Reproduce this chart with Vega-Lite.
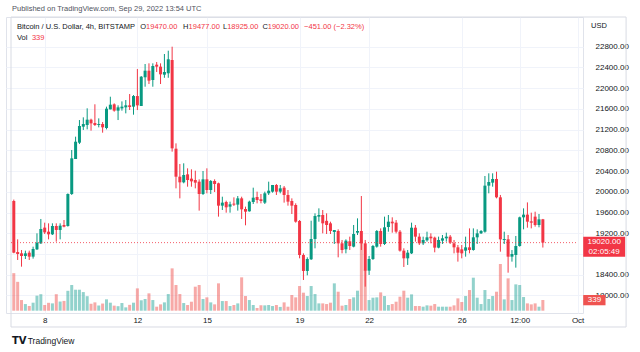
{
  "$schema": "https://vega.github.io/schema/vega-lite/v6.json",
  "autosize": "none",
  "width": 577,
  "height": 296,
  "padding": {"left": 6, "top": 17, "right": 57, "bottom": 39},
  "background": "white",
  "config": {
    "view": {"stroke": "#e0e3eb"},
    "font": "Liberation Sans",
    "axis": {"labelOverlap": false}
  },
  "data": {
    "values": [
      {"t":"2022-09-06T16:00Z","o":19823,"h":19850,"l":18815,"c":18826,"v":1190},
      {"t":"2022-09-06T20:00Z","o":18838,"h":19083,"l":18685,"c":18800,"v":915},
      {"t":"2022-09-07T00:00Z","o":18813,"h":18877,"l":18556,"c":18762,"v":338},
      {"t":"2022-09-07T04:00Z","o":18762,"h":18865,"l":18704,"c":18813,"v":211},
      {"t":"2022-09-07T08:00Z","o":18826,"h":18865,"l":18685,"c":18749,"v":150},
      {"t":"2022-09-07T12:00Z","o":18749,"h":18942,"l":18711,"c":18897,"v":254},
      {"t":"2022-09-07T16:00Z","o":18890,"h":19199,"l":18877,"c":19019,"v":476},
      {"t":"2022-09-07T20:00Z","o":19006,"h":19476,"l":18994,"c":19283,"v":523},
      {"t":"2022-09-08T00:00Z","o":19309,"h":19405,"l":19186,"c":19218,"v":180},
      {"t":"2022-09-08T04:00Z","o":19231,"h":19392,"l":19083,"c":19180,"v":250},
      {"t":"2022-09-08T08:00Z","o":19180,"h":19392,"l":19167,"c":19341,"v":232},
      {"t":"2022-09-08T12:00Z","o":19341,"h":19392,"l":19039,"c":19264,"v":523},
      {"t":"2022-09-08T16:00Z","o":19264,"h":19392,"l":19083,"c":19347,"v":290},
      {"t":"2022-09-08T20:00Z","o":19360,"h":19456,"l":19315,"c":19328,"v":310},
      {"t":"2022-09-09T00:00Z","o":19341,"h":19970,"l":19328,"c":19958,"v":630},
      {"t":"2022-09-09T04:00Z","o":19958,"h":20807,"l":19939,"c":20646,"v":814},
      {"t":"2022-09-09T08:00Z","o":20633,"h":21064,"l":20633,"c":20967,"v":665},
      {"t":"2022-09-09T12:00Z","o":20948,"h":21385,"l":20922,"c":21270,"v":665},
      {"t":"2022-09-09T16:00Z","o":21257,"h":21437,"l":21193,"c":21308,"v":590},
      {"t":"2022-09-09T20:00Z","o":21289,"h":21611,"l":21205,"c":21392,"v":460},
      {"t":"2022-09-10T00:00Z","o":21392,"h":21411,"l":21180,"c":21321,"v":220},
      {"t":"2022-09-10T04:00Z","o":21328,"h":21689,"l":21270,"c":21289,"v":264},
      {"t":"2022-09-10T08:00Z","o":21289,"h":21417,"l":21244,"c":21308,"v":165},
      {"t":"2022-09-10T12:00Z","o":21308,"h":21346,"l":21141,"c":21244,"v":227},
      {"t":"2022-09-10T16:00Z","o":21231,"h":21643,"l":21205,"c":21604,"v":360},
      {"t":"2022-09-10T20:00Z","o":21591,"h":21835,"l":21591,"c":21681,"v":254},
      {"t":"2022-09-11T00:00Z","o":21688,"h":21707,"l":21546,"c":21566,"v":160},
      {"t":"2022-09-11T04:00Z","o":21566,"h":21669,"l":21385,"c":21630,"v":143},
      {"t":"2022-09-11T08:00Z","o":21610,"h":21745,"l":21566,"c":21643,"v":243},
      {"t":"2022-09-11T12:00Z","o":21630,"h":21771,"l":21514,"c":21669,"v":106},
      {"t":"2022-09-11T16:00Z","o":21669,"h":21887,"l":21579,"c":21636,"v":185},
      {"t":"2022-09-11T20:00Z","o":21643,"h":21867,"l":21488,"c":21848,"v":254},
      {"t":"2022-09-12T00:00Z","o":21848,"h":22369,"l":21578,"c":21668,"v":708},
      {"t":"2022-09-12T04:00Z","o":21656,"h":22234,"l":21656,"c":22221,"v":330},
      {"t":"2022-09-12T08:00Z","o":22210,"h":22466,"l":22028,"c":22337,"v":370},
      {"t":"2022-09-12T12:00Z","o":22337,"h":22479,"l":22080,"c":22145,"v":550},
      {"t":"2022-09-12T16:00Z","o":22158,"h":22479,"l":22028,"c":22428,"v":338},
      {"t":"2022-09-12T20:00Z","o":22453,"h":22505,"l":22312,"c":22415,"v":127},
      {"t":"2022-09-13T00:00Z","o":22415,"h":22479,"l":22080,"c":22267,"v":201},
      {"t":"2022-09-13T04:00Z","o":22260,"h":22659,"l":22200,"c":22312,"v":264},
      {"t":"2022-09-13T08:00Z","o":22287,"h":22723,"l":22200,"c":22557,"v":528},
      {"t":"2022-09-13T12:00Z","o":22543,"h":22800,"l":20775,"c":20839,"v":1342},
      {"t":"2022-09-13T16:00Z","o":20832,"h":20935,"l":20067,"c":20292,"v":814},
      {"t":"2022-09-13T20:00Z","o":20292,"h":20537,"l":19874,"c":20183,"v":528},
      {"t":"2022-09-14T00:00Z","o":20183,"h":20550,"l":20164,"c":20325,"v":243},
      {"t":"2022-09-14T04:00Z","o":20337,"h":20453,"l":20099,"c":20228,"v":180},
      {"t":"2022-09-14T08:00Z","o":20254,"h":20434,"l":20099,"c":20202,"v":285},
      {"t":"2022-09-14T12:00Z","o":20228,"h":20408,"l":20067,"c":20177,"v":761},
      {"t":"2022-09-14T16:00Z","o":20196,"h":20241,"l":19637,"c":19958,"v":814},
      {"t":"2022-09-14T20:00Z","o":19958,"h":20402,"l":19939,"c":20241,"v":370},
      {"t":"2022-09-15T00:00Z","o":20241,"h":20453,"l":19971,"c":20035,"v":423},
      {"t":"2022-09-15T04:00Z","o":20035,"h":20228,"l":19958,"c":20209,"v":264},
      {"t":"2022-09-15T08:00Z","o":20209,"h":20241,"l":19997,"c":20151,"v":201},
      {"t":"2022-09-15T12:00Z","o":20164,"h":20177,"l":19521,"c":19733,"v":867},
      {"t":"2022-09-15T16:00Z","o":19733,"h":19906,"l":19649,"c":19791,"v":306},
      {"t":"2022-09-15T20:00Z","o":19804,"h":19829,"l":19598,"c":19701,"v":306},
      {"t":"2022-09-16T00:00Z","o":19714,"h":19810,"l":19598,"c":19759,"v":148},
      {"t":"2022-09-16T04:00Z","o":19772,"h":19894,"l":19727,"c":19753,"v":180},
      {"t":"2022-09-16T08:00Z","o":19753,"h":19919,"l":19637,"c":19874,"v":232},
      {"t":"2022-09-16T12:00Z","o":19874,"h":19906,"l":19476,"c":19662,"v":1057},
      {"t":"2022-09-16T16:00Z","o":19669,"h":19714,"l":19354,"c":19617,"v":465},
      {"t":"2022-09-16T20:00Z","o":19624,"h":19829,"l":19617,"c":19810,"v":338},
      {"t":"2022-09-17T00:00Z","o":19804,"h":20080,"l":19765,"c":19887,"v":180},
      {"t":"2022-09-17T04:00Z","o":19900,"h":20003,"l":19778,"c":19842,"v":85},
      {"t":"2022-09-17T08:00Z","o":19855,"h":19958,"l":19778,"c":19823,"v":169},
      {"t":"2022-09-17T12:00Z","o":19791,"h":20003,"l":19765,"c":19971,"v":169},
      {"t":"2022-09-17T16:00Z","o":19971,"h":20196,"l":19939,"c":20022,"v":180},
      {"t":"2022-09-17T20:00Z","o":20003,"h":20132,"l":19984,"c":20132,"v":148},
      {"t":"2022-09-18T00:00Z","o":20132,"h":20151,"l":19939,"c":20003,"v":180},
      {"t":"2022-09-18T04:00Z","o":20003,"h":20132,"l":19971,"c":20067,"v":120},
      {"t":"2022-09-18T08:00Z","o":20080,"h":20112,"l":19791,"c":19939,"v":264},
      {"t":"2022-09-18T12:00Z","o":19939,"h":20035,"l":19733,"c":19810,"v":127},
      {"t":"2022-09-18T16:00Z","o":19823,"h":19874,"l":19572,"c":19733,"v":497},
      {"t":"2022-09-18T20:00Z","o":19746,"h":19778,"l":19405,"c":19424,"v":423},
      {"t":"2022-09-19T00:00Z","o":19437,"h":19456,"l":18717,"c":18781,"v":782},
      {"t":"2022-09-19T04:00Z","o":18781,"h":18813,"l":18299,"c":18473,"v":571},
      {"t":"2022-09-19T08:00Z","o":18473,"h":18736,"l":18389,"c":18704,"v":465},
      {"t":"2022-09-19T12:00Z","o":18698,"h":19443,"l":18685,"c":19090,"v":782},
      {"t":"2022-09-19T16:00Z","o":19090,"h":19585,"l":18910,"c":19534,"v":528},
      {"t":"2022-09-19T20:00Z","o":19521,"h":19681,"l":19424,"c":19553,"v":232},
      {"t":"2022-09-20T00:00Z","o":19553,"h":19649,"l":19199,"c":19392,"v":232},
      {"t":"2022-09-20T04:00Z","o":19440,"h":19585,"l":19186,"c":19360,"v":211},
      {"t":"2022-09-20T08:00Z","o":19392,"h":19424,"l":19186,"c":19244,"v":254},
      {"t":"2022-09-20T12:00Z","o":19225,"h":19263,"l":18994,"c":19263,"v":867},
      {"t":"2022-09-20T16:00Z","o":19244,"h":19276,"l":18736,"c":19006,"v":602},
      {"t":"2022-09-20T20:00Z","o":19006,"h":19071,"l":18813,"c":18878,"v":159},
      {"t":"2022-09-21T00:00Z","o":18891,"h":19083,"l":18813,"c":19058,"v":180},
      {"t":"2022-09-21T04:00Z","o":19045,"h":19135,"l":18878,"c":18955,"v":370},
      {"t":"2022-09-21T08:00Z","o":18942,"h":19360,"l":18929,"c":19186,"v":423},
      {"t":"2022-09-21T12:00Z","o":19212,"h":19488,"l":19167,"c":19244,"v":634},
      {"t":"2022-09-21T16:00Z","o":19244,"h":19919,"l":18878,"c":19006,"v":2250},
      {"t":"2022-09-21T20:00Z","o":19006,"h":19071,"l":18170,"c":18479,"v":1300},
      {"t":"2022-09-22T00:00Z","o":18479,"h":18762,"l":18396,"c":18704,"v":338},
      {"t":"2022-09-22T04:00Z","o":18704,"h":18974,"l":18685,"c":18955,"v":412},
      {"t":"2022-09-22T08:00Z","o":18942,"h":19263,"l":18923,"c":19244,"v":423},
      {"t":"2022-09-22T12:00Z","o":19244,"h":19295,"l":18942,"c":18994,"v":581},
      {"t":"2022-09-22T16:00Z","o":18994,"h":19521,"l":18974,"c":19315,"v":465},
      {"t":"2022-09-22T20:00Z","o":19321,"h":19553,"l":19231,"c":19424,"v":180},
      {"t":"2022-09-23T00:00Z","o":19424,"h":19508,"l":19212,"c":19392,"v":211},
      {"t":"2022-09-23T04:00Z","o":19405,"h":19456,"l":19199,"c":19231,"v":285},
      {"t":"2022-09-23T08:00Z","o":19231,"h":19263,"l":18846,"c":18865,"v":444},
      {"t":"2022-09-23T12:00Z","o":18865,"h":18910,"l":18550,"c":18717,"v":634},
      {"t":"2022-09-23T16:00Z","o":18717,"h":18878,"l":18589,"c":18826,"v":412},
      {"t":"2022-09-23T20:00Z","o":18813,"h":19405,"l":18800,"c":19308,"v":518},
      {"t":"2022-09-24T00:00Z","o":19308,"h":19360,"l":19039,"c":19135,"v":148},
      {"t":"2022-09-24T04:00Z","o":19135,"h":19199,"l":18974,"c":19006,"v":148},
      {"t":"2022-09-24T08:00Z","o":19006,"h":19135,"l":18974,"c":19071,"v":127},
      {"t":"2022-09-24T12:00Z","o":19064,"h":19231,"l":19039,"c":19122,"v":169},
      {"t":"2022-09-24T16:00Z","o":19135,"h":19199,"l":19006,"c":19103,"v":159},
      {"t":"2022-09-24T20:00Z","o":19116,"h":19135,"l":18833,"c":18923,"v":211},
      {"t":"2022-09-25T00:00Z","o":18923,"h":19135,"l":18910,"c":19071,"v":127},
      {"t":"2022-09-25T04:00Z","o":19058,"h":19167,"l":18994,"c":19103,"v":127},
      {"t":"2022-09-25T08:00Z","o":19103,"h":19212,"l":19039,"c":19135,"v":127},
      {"t":"2022-09-25T12:00Z","o":19135,"h":19167,"l":18994,"c":19019,"v":127},
      {"t":"2022-09-25T16:00Z","o":19006,"h":19071,"l":18813,"c":18929,"v":169},
      {"t":"2022-09-25T20:00Z","o":18929,"h":18974,"l":18653,"c":18826,"v":391},
      {"t":"2022-09-26T00:00Z","o":18890,"h":18974,"l":18717,"c":18813,"v":275},
      {"t":"2022-09-26T04:00Z","o":18865,"h":19135,"l":18749,"c":18929,"v":465},
      {"t":"2022-09-26T08:00Z","o":18929,"h":19295,"l":18813,"c":18878,"v":655},
      {"t":"2022-09-26T12:00Z","o":18878,"h":19295,"l":18865,"c":19122,"v":1046},
      {"t":"2022-09-26T16:00Z","o":19122,"h":19276,"l":18994,"c":19199,"v":412},
      {"t":"2022-09-26T20:00Z","o":19199,"h":19263,"l":19186,"c":19244,"v":211},
      {"t":"2022-09-27T00:00Z","o":19231,"h":20305,"l":19212,"c":20119,"v":655},
      {"t":"2022-09-27T04:00Z","o":20119,"h":20357,"l":19971,"c":20190,"v":370},
      {"t":"2022-09-27T08:00Z","o":20177,"h":20357,"l":20099,"c":20248,"v":465},
      {"t":"2022-09-27T12:00Z","o":20248,"h":20389,"l":19874,"c":19894,"v":602},
      {"t":"2022-09-27T16:00Z","o":19894,"h":19939,"l":18845,"c":19083,"v":1480},
      {"t":"2022-09-27T20:00Z","o":19071,"h":19231,"l":18994,"c":19090,"v":359},
      {"t":"2022-09-28T00:00Z","o":19083,"h":19167,"l":18440,"c":18749,"v":1025},
      {"t":"2022-09-28T04:00Z","o":18749,"h":18877,"l":18653,"c":18800,"v":338},
      {"t":"2022-09-28T08:00Z","o":18781,"h":19148,"l":18537,"c":18955,"v":835},
      {"t":"2022-09-28T12:00Z","o":18955,"h":19521,"l":18942,"c":19508,"v":814},
      {"t":"2022-09-28T16:00Z","o":19508,"h":19681,"l":19276,"c":19560,"v":433},
      {"t":"2022-09-28T20:00Z","o":19560,"h":19796,"l":19308,"c":19424,"v":232},
      {"t":"2022-09-29T00:00Z","o":19430,"h":19598,"l":19295,"c":19405,"v":201},
      {"t":"2022-09-29T04:00Z","o":19521,"h":19617,"l":19328,"c":19360,"v":232},
      {"t":"2022-09-29T08:00Z","o":19360,"h":19572,"l":19315,"c":19469,"v":127},
      {"t":"2022-09-29T12:00Z","o":19470,"h":19477,"l":18925,"c":19020,"v":339}
    ]
  },
  "layer": [
    {
      "mark": {"type": "bar", "size": 3, "opacity": 0.5},
      "encoding": {
        "x": {
          "field": "t", "type": "temporal", "title": null,
          "scale": {"type": "utc", "domain": [
            {"year": 2022, "month": 9, "date": 6, "hours": 13, "minutes": 6, "utc": true},
            {"year": 2022, "month": 10, "date": 1, "hours": 0, "minutes": 24, "utc": true}
          ]},
          "axis": {
            "values": [
              {"year": 2022, "month": 9, "date": 8, "utc": true},
              {"year": 2022, "month": 9, "date": 12, "utc": true},
              {"year": 2022, "month": 9, "date": 15, "utc": true},
              {"year": 2022, "month": 9, "date": 19, "utc": true},
              {"year": 2022, "month": 9, "date": 22, "utc": true},
              {"year": 2022, "month": 9, "date": 26, "utc": true},
              {"year": 2022, "month": 9, "date": 28, "hours": 12, "utc": true},
              {"year": 2022, "month": 10, "date": 1, "utc": true}
            ],
            "labelExpr": "utcdate(datum.value) == 1 ? 'Oct' : (utchours(datum.value) == 12 ? '12:00' : utcFormat(datum.value, '%-d'))",
            "grid": true, "gridColor": "#f0f3fa", "domain": false, "ticks": false,
            "labelFontSize": 8, "labelColor": "#131722", "labelPadding": 3,
            "labelFlush": false, "labelOverlap": false, "title": null
          }
        },
        "y": {"field": "v", "type": "quantitative", "title": null, "stack": null, "scale": {"domain": [-73, 9310], "nice": false, "zero": false}, "axis": null},
        "y2": {"datum": 0},
        "color": {"condition": {"test": "datum.c >= datum.o", "value": "#26a69a"}, "value": "#ef5350"}
      }
    },
    {
      "layer": [
        {
          "mark": {"type": "rule", "strokeWidth": 1},
          "encoding": {
            "x": {"field": "t", "type": "temporal", "title": null},
            "y": {
              "field": "l", "type": "quantitative", "title": null,
              "scale": {"domain": [17662, 23373], "nice": false, "zero": false},
              "axis": {
                "orient": "right",
                "values": [18000, 18400, 18800, 19200, 19600, 20000, 20400, 20800, 21200, 21600, 22000, 22400, 22800],
                "labelExpr": "datum.value == 18800 ? '' : format(datum.value, '.2f')",
                "grid": true, "gridColor": "#f0f3fa", "domain": false, "ticks": false,
                "labelFontSize": 8, "labelColor": "#131722", "labelPadding": 12,
                "labelOverlap": false, "title": null
              }
            },
            "y2": {"field": "h"},
            "color": {"condition": {"test": "datum.c >= datum.o", "value": "#089981"}, "value": "#f23645"}
          }
        },
        {
          "mark": {"type": "bar", "size": 3},
          "encoding": {
            "x": {"field": "t", "type": "temporal", "title": null},
            "y": {
              "field": "o", "type": "quantitative", "title": null,
              "scale": {"domain": [17662, 23373], "nice": false, "zero": false},
              "axis": {
                "orient": "right",
                "values": [18000, 18400, 18800, 19200, 19600, 20000, 20400, 20800, 21200, 21600, 22000, 22400, 22800],
                "labelExpr": "datum.value == 18800 ? '' : format(datum.value, '.2f')",
                "grid": true, "gridColor": "#f0f3fa", "domain": false, "ticks": false,
                "labelFontSize": 8, "labelColor": "#131722", "labelPadding": 12,
                "labelOverlap": false, "title": null
              }
            },
            "y2": {"field": "c"},
            "color": {"condition": {"test": "datum.c >= datum.o", "value": "#089981"}, "value": "#f23645"}
          }
        }
      ]
    },
    {
      "data": {"values": [{}]},
      "layer": [
        {
          "mark": {"type": "rect", "fill": "white", "fillOpacity": 0, "stroke": "#d8dbe3", "strokeWidth": 1},
          "encoding": {
            "x": {"datum": {"year": 2022, "month": 9, "date": 6, "hours": 13, "minutes": 6, "utc": true}, "type": "temporal"},
            "x2": {"datum": {"year": 2022, "month": 10, "date": 3, "hours": 2, "minutes": 12, "utc": true}},
            "y": {"datum": 23373, "type": "quantitative", "axis": null, "scale": {"domain": [17662, 23373], "nice": false, "zero": false}},
            "y2": {"datum": 17392}
          }
        },
        {
          "mark": {"type": "rule", "color": "#f23645", "strokeDash": [1, 2], "strokeWidth": 1, "opacity": 0.8},
          "encoding": {
            "x": {"datum": {"year": 2022, "month": 9, "date": 6, "hours": 13, "minutes": 6, "utc": true}, "type": "temporal"},
            "x2": {"datum": {"year": 2022, "month": 10, "date": 1, "hours": 0, "minutes": 24, "utc": true}},
            "y": {"datum": 19020, "type": "quantitative", "axis": null, "scale": {"domain": [17662, 23373], "nice": false, "zero": false}}
          }
        },
        {
          "mark": {"type": "text", "align": "left", "baseline": "middle", "fontSize": 7.5, "color": "#50535e", "text": "Published on TradingView.com, Sep 29, 2022 13:54 UTC"},
          "encoding": {"x": {"datum": {"year": 2022, "month": 9, "date": 6, "hours": 14, "minutes": 6, "utc": true}, "type": "temporal"}, "y": {"datum": 23527, "type": "quantitative", "axis": null}}
        },
        {
          "mark": {"type": "text", "align": "left", "baseline": "middle", "fontSize": 7.5, "color": "#131722", "text": "Bitcoin / U.S. Dollar, 4h, BITSTAMP"},
          "encoding": {"x": {"datum": {"year": 2022, "month": 9, "date": 6, "hours": 19, "minutes": 12, "utc": true}, "type": "temporal"}, "y": {"datum": 23186, "type": "quantitative", "axis": null}}
        },
        {
          "mark": {"type": "text", "align": "left", "baseline": "middle", "fontSize": 7.5, "color": "#131722", "text": "O"},
          "encoding": {"x": {"datum": {"year": 2022, "month": 9, "date": 12, "hours": 3, "minutes": 6, "utc": true}, "type": "temporal"}, "y": {"datum": 23186, "type": "quantitative", "axis": null}}
        },
        {
          "mark": {"type": "text", "align": "left", "baseline": "middle", "fontSize": 7.5, "color": "#f23645", "text": "19470.00"},
          "encoding": {"x": {"datum": {"year": 2022, "month": 9, "date": 12, "hours": 9, "minutes": 0, "utc": true}, "type": "temporal"}, "y": {"datum": 23186, "type": "quantitative", "axis": null}}
        },
        {
          "mark": {"type": "text", "align": "left", "baseline": "middle", "fontSize": 7.5, "color": "#131722", "text": "H"},
          "encoding": {"x": {"datum": {"year": 2022, "month": 9, "date": 13, "hours": 23, "minutes": 12, "utc": true}, "type": "temporal"}, "y": {"datum": 23186, "type": "quantitative", "axis": null}}
        },
        {
          "mark": {"type": "text", "align": "left", "baseline": "middle", "fontSize": 7.5, "color": "#f23645", "text": "19477.00"},
          "encoding": {"x": {"datum": {"year": 2022, "month": 9, "date": 14, "hours": 5, "minutes": 0, "utc": true}, "type": "temporal"}, "y": {"datum": 23186, "type": "quantitative", "axis": null}}
        },
        {
          "mark": {"type": "text", "align": "left", "baseline": "middle", "fontSize": 7.5, "color": "#131722", "text": "L"},
          "encoding": {"x": {"datum": {"year": 2022, "month": 9, "date": 15, "hours": 16, "minutes": 36, "utc": true}, "type": "temporal"}, "y": {"datum": 23186, "type": "quantitative", "axis": null}}
        },
        {
          "mark": {"type": "text", "align": "left", "baseline": "middle", "fontSize": 7.5, "color": "#f23645", "text": "18925.00"},
          "encoding": {"x": {"datum": {"year": 2022, "month": 9, "date": 15, "hours": 21, "minutes": 0, "utc": true}, "type": "temporal"}, "y": {"datum": 23186, "type": "quantitative", "axis": null}}
        },
        {
          "mark": {"type": "text", "align": "left", "baseline": "middle", "fontSize": 7.5, "color": "#131722", "text": "C"},
          "encoding": {"x": {"datum": {"year": 2022, "month": 9, "date": 17, "hours": 9, "minutes": 36, "utc": true}, "type": "temporal"}, "y": {"datum": 23186, "type": "quantitative", "axis": null}}
        },
        {
          "mark": {"type": "text", "align": "left", "baseline": "middle", "fontSize": 7.5, "color": "#f23645", "text": "19020.00"},
          "encoding": {"x": {"datum": {"year": 2022, "month": 9, "date": 17, "hours": 15, "minutes": 0, "utc": true}, "type": "temporal"}, "y": {"datum": 23186, "type": "quantitative", "axis": null}}
        },
        {
          "mark": {"type": "text", "align": "left", "baseline": "middle", "fontSize": 7.5, "color": "#f23645", "text": "−451.00 (−2.32%)"},
          "encoding": {"x": {"datum": {"year": 2022, "month": 9, "date": 19, "hours": 4, "minutes": 42, "utc": true}, "type": "temporal"}, "y": {"datum": 23186, "type": "quantitative", "axis": null}}
        },
        {
          "mark": {"type": "text", "align": "left", "baseline": "middle", "fontSize": 7.5, "color": "#131722", "text": "Vol"},
          "encoding": {"x": {"datum": {"year": 2022, "month": 9, "date": 6, "hours": 19, "minutes": 12, "utc": true}, "type": "temporal"}, "y": {"datum": 22962, "type": "quantitative", "axis": null}}
        },
        {
          "mark": {"type": "text", "align": "left", "baseline": "middle", "fontSize": 7.5, "color": "#f23645", "text": "339"},
          "encoding": {"x": {"datum": {"year": 2022, "month": 9, "date": 7, "hours": 10, "minutes": 48, "utc": true}, "type": "temporal"}, "y": {"datum": 22962, "type": "quantitative", "axis": null}}
        },
        {
          "mark": {"type": "text", "align": "left", "baseline": "middle", "fontSize": 7.5, "color": "#131722", "text": "USD"},
          "encoding": {"x": {"datum": {"year": 2022, "month": 10, "date": 1, "hours": 13, "minutes": 54, "utc": true}, "type": "temporal"}, "y": {"datum": 23199, "type": "quantitative", "axis": null}}
        },
        {
          "mark": {"type": "rect", "fill": "#f23645"},
          "encoding": {
            "x": {"datum": {"year": 2022, "month": 10, "date": 1, "hours": 5, "minutes": 48, "utc": true}, "type": "temporal"},
            "x2": {"datum": {"year": 2022, "month": 10, "date": 3, "hours": 1, "minutes": 12, "utc": true}},
            "y": {"datum": 19134, "type": "quantitative", "axis": null},
            "y2": {"datum": 18748}
          }
        },
        {
          "mark": {"type": "text", "align": "center", "baseline": "middle", "fontSize": 8, "color": "white", "text": "19020.00"},
          "encoding": {"x": {"datum": {"year": 2022, "month": 10, "date": 2, "hours": 3, "minutes": 30, "utc": true}, "type": "temporal"}, "y": {"datum": 19026, "type": "quantitative", "axis": null}}
        },
        {
          "mark": {"type": "text", "align": "center", "baseline": "middle", "fontSize": 8, "color": "white", "text": "02:05:49"},
          "encoding": {"x": {"datum": {"year": 2022, "month": 10, "date": 2, "hours": 3, "minutes": 30, "utc": true}, "type": "temporal"}, "y": {"datum": 18845, "type": "quantitative", "axis": null}}
        },
        {
          "mark": {"type": "rect", "fill": "#ef5350"},
          "encoding": {
            "x": {"datum": {"year": 2022, "month": 10, "date": 1, "hours": 5, "minutes": 48, "utc": true}, "type": "temporal"},
            "x2": {"datum": {"year": 2022, "month": 10, "date": 2, "hours": 4, "minutes": 54, "utc": true}},
            "y": {"datum": 18009, "type": "quantitative", "axis": null},
            "y2": {"datum": 17811}
          }
        },
        {
          "mark": {"type": "text", "align": "center", "baseline": "middle", "fontSize": 8, "color": "white", "text": "339"},
          "encoding": {"x": {"datum": {"year": 2022, "month": 10, "date": 1, "hours": 17, "minutes": 24, "utc": true}, "type": "temporal"}, "y": {"datum": 17913, "type": "quantitative", "axis": null}}
        },
        {
          "mark": {"type": "text", "align": "left", "baseline": "middle", "fontSize": 10, "fontWeight": 900, "font": "DejaVu Sans", "color": "#131722", "text": "TV"},
          "encoding": {"x": {"datum": {"year": 2022, "month": 9, "date": 6, "hours": 14, "minutes": 6, "utc": true}, "type": "temporal"}, "y": {"datum": 17122, "type": "quantitative", "axis": null}}
        },
        {
          "mark": {"type": "text", "align": "left", "baseline": "middle", "fontSize": 8.5, "color": "#131722", "text": "TradingView"},
          "encoding": {"x": {"datum": {"year": 2022, "month": 9, "date": 7, "hours": 6, "minutes": 24, "utc": true}, "type": "temporal"}, "y": {"datum": 17122, "type": "quantitative", "axis": null}}
        }
      ]
    }
  ],
  "resolve": {"scale": {"y": "independent"}}
}
